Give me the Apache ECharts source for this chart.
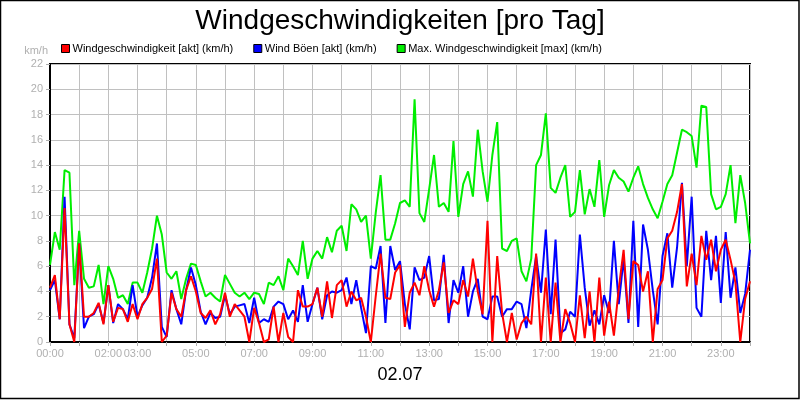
<!DOCTYPE html>
<html>
<head>
<meta charset="utf-8">
<script src="https://cdn.jsdelivr.net/npm/echarts@6/dist/echarts.min.js"></script>
<style>
  html, body { margin: 0; padding: 0; background: #fff; }
  #chart { width: 800px; height: 400px; }
</style>
</head>
<body>
<div id="chart"></div>
<script>
// readings every 10 minutes, 00:00 .. 24:00
var stepMinutes = 10;

var hourLabels = ["00:00", "", "02:00", "03:00", "", "05:00", "", "07:00", "", "09:00", "", "11:00", "",
  "13:00", "", "15:00", "", "17:00", "", "19:00", "", "21:00", "", "23:00", ""];

var windAkt = [4.3, 5.3, 1.8, 10.6, 1.4, 0, 7.8, 2.0, 2.0, 2.3, 3.1, 1.4, 4.5, 1.6, 2.7, 2.6, 1.6, 3.0, 1.8, 3.0,
  3.5, 4.2, 6.6, 0, 0.5, 3.9, 2.6, 2.0, 4.1, 5.2, 4.0, 2.3, 1.9, 2.5,
  1.4, 2.2, 3.9, 2.0, 3.0, 2.5, 2.0, 0, 2.7, 1.5, 0, 0.2, 2.8, 0, 2.3, 0.4, 0, 4.1, 2.8, 2.8, 3.0, 4.3, 2.0,
  4.8, 1.9, 4.5, 4.9, 2.8, 4.0, 3.3, 3.5, 2.0, 0, 3.6, 7.0,
  3.5, 3.4, 5.5, 6.1, 1.2, 3.9, 4.7, 3.7, 6.0, 4.1, 2.8, 4.1, 6.3, 2.3, 3.3, 3.0, 4.9, 3.6, 6.6, 4.0, 2.2,
  9.6, 0, 6.8, 2.3, 0, 2.3, 0.2, 1.5, 2.0, 1.4, 7.0, 0, 5.1, 0,
  4.7, 0, 2.6, 1.5, 0, 3.7, 0.3, 4.0, 0, 5.1, 0.5, 3.2, 0.5, 4.2, 7.3, 1.8, 6.4, 6.1, 4.0, 5.6, 0, 4.2, 4.9,
  8.2, 8.8, 10.3, 12.5, 4.4, 7.0, 4.5, 8.4, 6.5, 8.1, 5.6, 7.3, 8.1, 6.5, 4.7, 0, 3.4, 4.8];

var windBoeen = [4.1, 4.9, 1.8, 11.5, 1.4, 0.3, 7.8, 1.1, 2.0, 2.2, 3.0, 1.5, 4.5, 1.5, 3.0, 2.6, 1.8, 4.5, 2.0, 2.9,
  3.5, 5.1, 7.8, 1.2, 0.4, 4.1, 2.6, 1.4, 4.1, 5.9, 4.5, 2.4, 1.4, 2.3,
  1.9, 2.0, 3.7, 2.2, 2.8, 2.9, 3.0, 1.5, 3.5, 1.5, 1.8, 1.6, 2.8, 3.2, 3.0, 1.8, 2.5, 1.6, 4.5, 1.6, 3.0, 4.3,
  1.8, 3.7, 4.0, 3.9, 4.1, 5.1, 3.0, 4.9, 2.7, 0.7, 6.0, 5.8, 7.6,
  1.5, 7.6, 5.7, 6.4, 3.0, 1.0, 5.9, 4.9, 5.1, 6.8, 3.3, 3.4, 6.9, 1.5, 4.9, 3.9, 6.0, 2.0, 4.0, 5.0, 2.0,
  1.8, 3.6, 3.6, 2.0, 2.6, 2.6, 3.2, 3.0, 1.1, 4.1, 6.8, 3.9, 8.9, 2.2,
  8.1, 0.7, 1.0, 2.4, 2.0, 8.5, 4.3, 1.3, 2.5, 1.4, 3.7, 2.3, 8.0, 3.0, 6.6, 1.5, 9.6, 1.2, 9.3, 7.3, 4.1, 1.4,
  6.8, 8.6, 4.3, 7.5, 12.6, 6.0, 11.5, 2.7, 2.0, 8.8, 4.9, 8.4, 3.1, 8.7, 3.5, 5.9, 2.3, 3.8, 7.3];

var windMax = [6.1, 8.7, 7.3, 13.6, 13.4, 4.5, 8.8, 5.0, 4.3, 4.4, 6.1, 3.0, 6.0, 5.0, 3.5, 3.7, 3.0, 4.7, 4.7, 3.9,
  5.5, 7.4, 10.0, 8.5, 5.5, 5.0, 5.6, 3.4, 5.0, 6.2, 6.1, 4.8, 3.6, 3.9,
  3.5, 3.2, 5.3, 4.6, 3.9, 3.6, 3.9, 3.4, 3.9, 3.8, 3.0, 4.7, 4.5, 5.2, 4.1, 6.6, 6.0, 5.3, 8.0, 5.0, 6.6, 7.2,
  6.6, 8.3, 7.1, 8.8, 9.2, 7.2, 10.9, 10.5, 9.5, 10.0, 6.6, 10.2, 13.2,
  8.1, 8.1, 9.4, 11.0, 11.2, 10.7, 19.2, 10.2, 9.5, 12.1, 14.8, 10.7, 11.0, 10.3, 15.9, 9.9, 12.5, 13.5, 11.5,
  16.8, 13.5, 11.1, 14.8, 17.4, 7.4, 7.2, 8.0, 8.2, 5.6, 4.8, 6.6, 14.0, 14.8, 18.1, 12.2,
  11.8, 13.0, 14.0, 9.9, 10.3, 13.6, 10.1, 12.1, 10.7, 14.4, 9.9, 12.4, 13.6, 13.0, 12.7, 11.9, 13.0, 13.9, 12.5,
  11.4, 10.5, 9.8, 11.1, 12.5, 13.2, 15.0, 16.8, 16.6, 16.3, 13.8, 18.7, 18.6, 11.7, 10.5, 10.7, 11.7, 14.0,
  9.4, 13.2, 11.0, 7.8];

function pairs(values) {
  return values.map(function (v, i) { return [i * stepMinutes, v]; });
}

var chart = echarts.init(document.getElementById("chart"));

var axisGray = "#b0b0b0";
var font = "Liberation Sans, Arial, sans-serif";

var option = {
  backgroundColor: "#fff",
  animation: false,
  textStyle: { fontFamily: font },
  title: {
    text: "Windgeschwindigkeiten [pro Tag]",
    left: "center",
    top: 2,
    textStyle: { fontSize: 28, fontWeight: "normal", color: "#000", fontFamily: font }
  },
  legend: {
    left: 56,
    top: 38,
    itemWidth: 8,
    itemHeight: 8,
    itemGap: 20,
    icon: "rect",
    data: ["Windgeschwindigkeit [akt] (km/h)", "Wind Böen [akt] (km/h)", "Max. Windgeschwindigkeit [max] (km/h)"],
    itemStyle: { borderColor: "#000", borderWidth: 1 },
    textStyle: { fontSize: 11, color: "#000", fontFamily: font, padding: [0, 0, 0, -2] }
  },
  grid: {
    left: 50,
    right: 50,
    top: 64,
    bottom: 58,
    show: true,
    borderColor: "#000",
    borderWidth: 2,
    backgroundColor: "#fff"
  },
  xAxis: {
    type: "value",
    min: 0,
    max: 1440,
    interval: 60,
    name: "02.07",
    nameLocation: "middle",
    nameGap: 24,
    nameTextStyle: { fontSize: 18, color: "#000", fontFamily: font },
    axisLine: { lineStyle: { color: "#000", width: 2 } },
    axisTick: { show: true, length: 4, lineStyle: { color: axisGray } },
    axisLabel: {
      color: axisGray,
      fontSize: 11,
      margin: 6,
      formatter: function (v) { return hourLabels[Math.round(v / 60)] || ""; }
    },
    splitLine: { show: true, lineStyle: { color: "#c0c0c0", width: 1 } }
  },
  yAxis: {
    type: "value",
    min: 0,
    max: 22,
    interval: 2,
    name: "km/h",
    nameLocation: "end",
    nameGap: 8,
    nameTextStyle: { color: axisGray, fontSize: 11, align: "right", padding: [0, 2, 0, 0] },
    axisLine: { show: true, lineStyle: { color: "#000", width: 2 } },
    axisTick: { show: true, length: 4, lineStyle: { color: axisGray } },
    axisLabel: { color: axisGray, fontSize: 11, margin: 7 },
    splitLine: { show: true, lineStyle: { color: "#c0c0c0", width: 1 } }
  },
  graphic: [{
    type: "rect",
    shape: { x: 0.5, y: 0.5, width: 798.5, height: 398 },
    style: { fill: "none", stroke: "#000", lineWidth: 1.5 },
    silent: true
  }],
  series: [
    {
      name: "Max. Windgeschwindigkeit [max] (km/h)",
      type: "line",
      data: pairs(windMax),
      showSymbol: false,
      color: "#00ee00",
      lineStyle: { color: "#00ee00", width: 2 },
      z: 2
    },
    {
      name: "Wind Böen [akt] (km/h)",
      type: "line",
      data: pairs(windBoeen),
      showSymbol: false,
      color: "#0000ff",
      lineStyle: { color: "#0000ff", width: 2 },
      z: 3
    },
    {
      name: "Windgeschwindigkeit [akt] (km/h)",
      type: "line",
      data: pairs(windAkt),
      showSymbol: false,
      color: "#ff0000",
      lineStyle: { color: "#ff0000", width: 2 },
      z: 4
    }
  ]
};

chart.setOption(option);
</script>
</body>
</html>
